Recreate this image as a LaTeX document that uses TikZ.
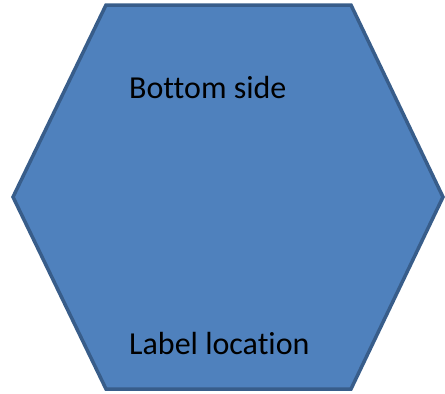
\documentclass[tikz,border=0pt]{standalone}
\usepackage{fontspec}
\setmainfont{Carlito}[Ligatures={NoCommon,NoRequired,NoContextual}]
\definecolor{hexfill}{HTML}{4F81BD}
\definecolor{hexline}{HTML}{385D8A}
\tikzset{
  hexshape/.style={fill=hexfill, draw=hexline, line width=3.5pt, line join=miter},
  lbl/.style={anchor=base west, inner sep=0pt, font=\fontsize{32pt}{38pt}\selectfont, text=black}
}
\begin{document}
\begin{tikzpicture}[x=1pt,y=-1pt]
\useasboundingbox (0,0) rectangle (445,394);
\draw[hexshape] (106,5) -- (351,5) -- (443,197) -- (351,389) -- (106,389) -- (13,197) -- cycle;
\node[lbl] (top) at (129,98) {Bottom side};
\node[lbl] (bot) at (129,354) {Label location};
\end{tikzpicture}
\end{document}
